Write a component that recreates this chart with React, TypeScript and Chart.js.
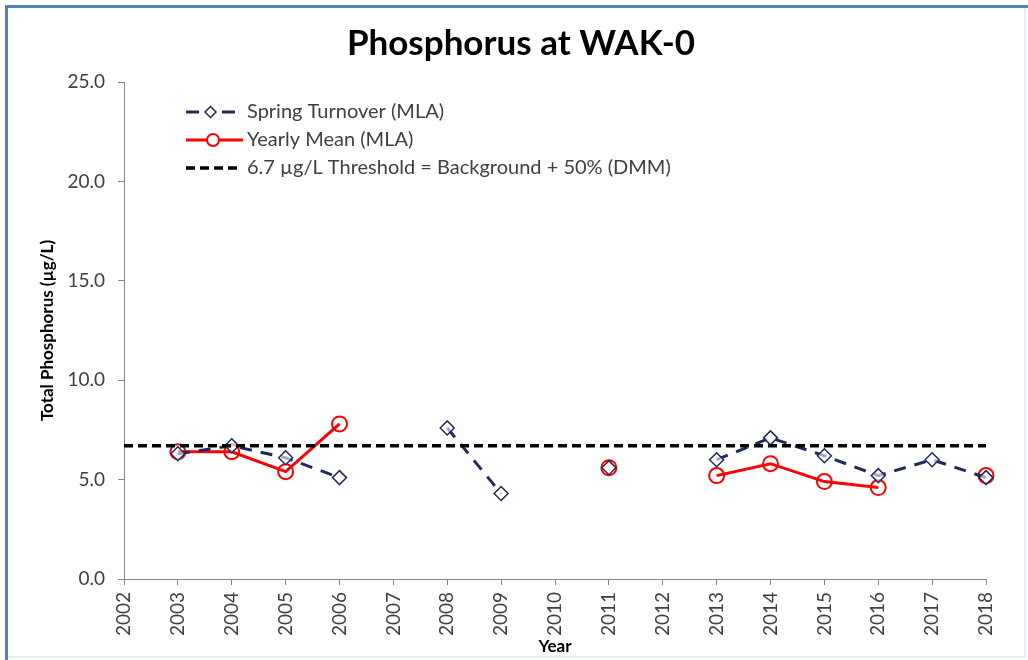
import React, { useEffect, useRef } from 'react';
import { Chart, registerables } from 'chart.js';

Chart.register(...registerables);

const years = ['2002', '2003', '2004', '2005', '2006', '2007', '2008', '2009', '2010', '2011', '2012', '2013', '2014', '2015', '2016', '2017', '2018'];
const springTurnover = [null, 6.3, 6.7, 6.1, 5.1, null, 7.6, 4.3, null, 5.6, null, 6.0, 7.1, 6.2, 5.2, 6.0, 5.1];
const yearlyMean = [null, 6.4, 6.4, 5.4, 7.8, null, null, null, null, 5.6, null, 5.2, 5.8, 4.9, 4.6, null, 5.2];
const thresholdValue = 6.7;
const threshold = years.map(() => thresholdValue);

const seriesLabels = ['Spring Turnover (MLA)', 'Yearly Mean (MLA)', '6.7 µg/L Threshold = Background + 50% (DMM)'];
const titleText = 'Phosphorus at WAK-0';
const yTitle = 'Total Phosphorus (µg/L)';
const xTitle = 'Year';

const FONT = 'Lato, "Open Sans", sans-serif';
const NAVY = '#1F2A5C';
const RED = '#FF0000';
const TEXT = '#404040';
const AXIS = '#868686';

const framePlugin = {
  id: 'frame',
  beforeDraw(chart: any) {
    const { ctx, width, height } = chart;
    ctx.save();
    ctx.fillStyle = '#ffffff';
    ctx.fillRect(0, 0, width, height);
    ctx.strokeStyle = '#4F81BD';
    ctx.lineWidth = 3;
    ctx.beginPath();
    ctx.moveTo(6.5, height);
    ctx.lineTo(6.5, 6.5);
    ctx.lineTo(width, 6.5);
    ctx.stroke();
    ctx.strokeStyle = '#E4ECF5';
    ctx.lineWidth = 2;
    ctx.beginPath();
    ctx.moveTo(8, height - 3);
    ctx.lineTo(width - 3, height - 3);
    ctx.lineTo(width - 3, 8);
    ctx.stroke();
    ctx.restore();
  },
};

const titlePlugin = {
  id: 'customTitle',
  afterDraw(chart: any) {
    const { ctx } = chart;
    ctx.save();
    ctx.font = `bold 35px ${FONT}`;
    ctx.fillStyle = '#000000';
    ctx.textAlign = 'center';
    ctx.textBaseline = 'middle';
    ctx.fillText(titleText, 521, 44);
    ctx.restore();
  },
};

const legendPlugin = {
  id: 'customLegend',
  afterDraw(chart: any) {
    const { ctx } = chart;
    const x0 = 186;
    const textX = 247;
    const rows = [112, 140, 168];
    ctx.save();
    ctx.font = `20px ${FONT}`;
    ctx.fillStyle = TEXT;
    ctx.textBaseline = 'middle';
    ctx.textAlign = 'left';

    // Spring turnover
    let y = rows[0];
    ctx.strokeStyle = NAVY;
    ctx.lineWidth = 3;
    ctx.beginPath();
    ctx.moveTo(x0, y); ctx.lineTo(x0 + 13, y);
    ctx.moveTo(x0 + 36, y); ctx.lineTo(x0 + 49, y);
    ctx.stroke();
    ctx.lineWidth = 1.5;
    ctx.fillStyle = '#ffffff';
    ctx.beginPath();
    ctx.moveTo(x0 + 24.5, y - 5.5);
    ctx.lineTo(x0 + 30, y);
    ctx.lineTo(x0 + 24.5, y + 5.5);
    ctx.lineTo(x0 + 19, y);
    ctx.closePath();
    ctx.fill();
    ctx.stroke();
    ctx.fillStyle = TEXT;
    ctx.fillText(seriesLabels[0], textX, y);

    // Yearly mean
    y = rows[1];
    ctx.strokeStyle = RED;
    ctx.lineWidth = 3;
    ctx.beginPath();
    ctx.moveTo(x0, y); ctx.lineTo(x0 + 57, y);
    ctx.stroke();
    ctx.lineWidth = 2;
    ctx.fillStyle = '#ffffff';
    ctx.beginPath();
    ctx.arc(x0 + 27, y, 6, 0, Math.PI * 2);
    ctx.fill();
    ctx.stroke();
    ctx.fillStyle = TEXT;
    ctx.fillText(seriesLabels[1], textX, y);

    // Threshold
    y = rows[2];
    ctx.strokeStyle = '#000000';
    ctx.lineWidth = 3.5;
    ctx.setLineDash([9, 5]);
    ctx.beginPath();
    ctx.moveTo(x0, y); ctx.lineTo(x0 + 56, y);
    ctx.stroke();
    ctx.setLineDash([]);
    ctx.fillText(seriesLabels[2], textX, y);
    ctx.restore();
  },
};

export default function App() {
  const ref = useRef<HTMLCanvasElement | null>(null);

  useEffect(() => {
    document.body.style.margin = '0';
    if (!ref.current) return;
    const chart = new Chart(ref.current, {
      type: 'line',
      data: {
        labels: years,
        datasets: [
          {
            label: seriesLabels[2],
            data: threshold,
            borderColor: '#000000',
            borderWidth: 3.5,
            borderDash: [9, 5],
            pointRadius: 0,
            fill: false,
            order: 0,
          },
          {
            label: seriesLabels[0],
            data: springTurnover,
            borderColor: NAVY,
            borderWidth: 3,
            borderDash: [12, 9],
            pointStyle: 'rectRot',
            pointRadius: 7,
            pointBorderWidth: 1.5,
            pointBorderColor: NAVY,
            pointBackgroundColor: 'rgba(255,255,255,0.6)',
            spanGaps: false,
            fill: false,
            order: 1,
          },
          {
            label: seriesLabels[1],
            data: yearlyMean,
            borderColor: RED,
            borderWidth: 3,
            pointStyle: 'circle',
            pointRadius: 7.5,
            pointBorderWidth: 2,
            pointBorderColor: RED,
            pointBackgroundColor: 'rgba(255,255,255,0)',
            spanGaps: false,
            fill: false,
            order: 2,
          },
        ],
      },
      options: {
        animation: false,
        responsive: false,
        layout: { padding: { left: 0, right: 42, top: 82, bottom: 0 } },
        plugins: {
          legend: { display: false },
          tooltip: { enabled: false },
          title: { display: false },
        },
        scales: {
          x: {
            type: 'category',
            offset: false,
            grid: { drawOnChartArea: false, drawTicks: true, tickLength: 6, color: AXIS },
            border: { color: AXIS, width: 1 },
            ticks: {
              color: TEXT,
              font: { family: FONT, size: 19 },
              minRotation: 90,
              maxRotation: 90,
              padding: 7,
              autoSkip: false,
            },
            title: {
              display: true,
              text: xTitle,
              color: '#000000',
              font: { family: FONT, size: 17, weight: 'bold', lineHeight: 1.2 },
              padding: { top: 0, bottom: 3 },
            },
            afterFit(scale: any) {
              scale.height = 81;
            },
          },
          y: {
            min: 0,
            max: 25,
            grid: { drawOnChartArea: false, drawTicks: true, tickLength: 6, color: AXIS },
            border: { color: AXIS, width: 1 },
            ticks: {
              stepSize: 5,
              color: TEXT,
              font: { family: FONT, size: 19 },
              padding: 13,
              callback: (v: any) => Number(v).toFixed(1),
            },
            title: {
              display: true,
              text: yTitle,
              color: '#000000',
              font: { family: FONT, size: 17, weight: 'bold', lineHeight: 1.2 },
              padding: { top: 37, bottom: 0 },
            },
            afterFit(scale: any) {
              scale.width = 124;
            },
          },
        },
      },
      plugins: [framePlugin, titlePlugin, legendPlugin],
    });
    return () => chart.destroy();
  }, []);

  return (
    <div style={{ width: 1028, height: 660 }}>
      <canvas ref={ref} width={1028} height={660} style={{ display: 'block' }} />
    </div>
  );
}
